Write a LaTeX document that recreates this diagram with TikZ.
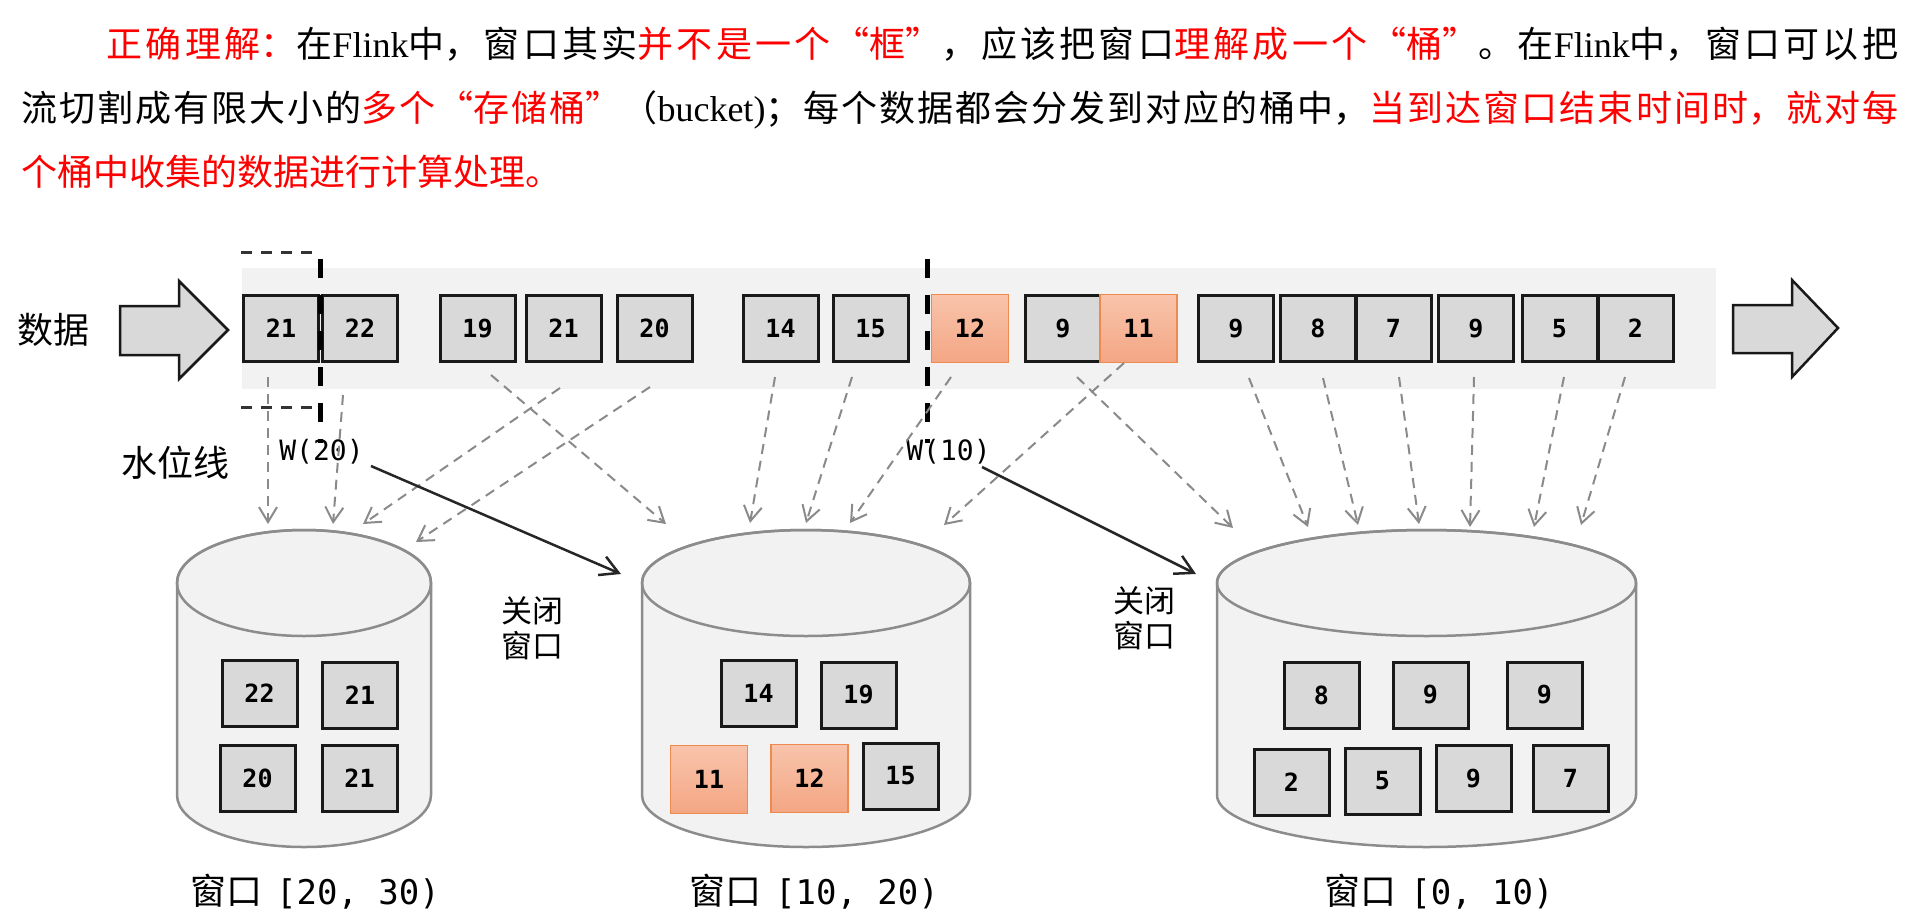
\documentclass[tikz,border=0pt]{standalone}
\usepackage{fontspec}
\setmainfont{Noto Sans CJK SC}
\newfontfamily\latinf{Liberation Serif}
\newfontfamily\monof{DejaVu Sans Mono}
\usetikzlibrary{arrows.meta}
\XeTeXlinebreaklocale "zh"
\XeTeXlinebreakskip=0pt plus 6pt
\definecolor{bandgray}{HTML}{F2F2F2}
\definecolor{boxgray}{HTML}{D9D9D9}
\definecolor{cylfill}{HTML}{F2F2F2}
\definecolor{cyledge}{HTML}{8C8C8C}
\definecolor{arrgray}{HTML}{8A8A8A}
\definecolor{orTop}{HTML}{F8C4AB}
\definecolor{orBot}{HTML}{F4A684}
\definecolor{orEdge}{HTML}{EE8A4E}
\definecolor{txtred}{HTML}{FF0000}
\tikzset{
  databox/.style={draw=black!90, line width=3pt, fill=boxgray, minimum width=75pt, minimum height=66pt, inner sep=0pt, font=\monof\bfseries\fontsize{25pt}{25pt}\selectfont},
  orangebox/.style={databox, draw=orEdge, line width=1.2pt, top color=orTop, bottom color=orBot, minimum width=77pt, minimum height=68pt},
  cylstyle/.style={fill=cylfill, draw=cyledge, line width=2.5pt},
  darrow/.style={draw=arrgray, line width=2pt, dash pattern=on 10pt off 7pt, -{Straight Barb[length=15pt,width=18pt]}},
  barrow/.style={draw=black!85, line width=2.5pt, -{Straight Barb[length=18pt,width=20pt]}},
  wline/.style={draw=black, line width=5pt, dash pattern=on 19pt off 17pt},
  mline/.style={draw=black!80, line width=3pt, dash pattern=on 11pt off 9pt},
  blockarrow/.style={fill=boxgray, draw=black!90, line width=2.5pt, line join=miter},
  cjklabel/.style={inner sep=0pt, font=\fontsize{36pt}{36pt}\selectfont},
  closelabel/.style={inner sep=0pt, align=left, font=\fontsize{31pt}{35pt}\selectfont},
  wlabel/.style={inner sep=0pt, font=\monof\fontsize{28pt}{28pt}\selectfont},
}
\newcommand{\cylinder}[3]{% name, cx, rx
  \path[cylstyle] (#2-#3,583) -- (#2-#3,795) arc[start angle=180, end angle=0, x radius=#3, y radius=52] -- (#2+#3,583) arc[start angle=0, end angle=-180, x radius=#3, y radius=53] -- cycle;
  \draw[cyledge, line width=2.5pt] (#2,583) ellipse [x radius=#3, y radius=53];
  \coordinate (#1) at (#2,583);
}
\begin{document}
\begin{tikzpicture}[x=1pt,y=-1pt]
\useasboundingbox (0,0) rectangle (1920,916);

% paragraph
\node[anchor=base west, inner sep=0pt, text width=1877pt, align=justify, font=\fontsize{36pt}{64pt}\selectfont] (para) at (21,57) {\hspace*{85.5pt}\textcolor{txtred}{正确理解：}在{\latinf Flink}中，窗口其实\textcolor{txtred}{并不是一个“框”}，应该把窗口\textcolor{txtred}{理解成一个“桶”}。在{\latinf Flink}中，窗口可以把\linebreak 流切割成有限大小的\textcolor{txtred}{多个“存储桶”}（{\latinf bucket)}；每个数据都会分发到对应的桶中，\textcolor{txtred}{当到达窗口结束时间时，就对每\linebreak 个桶中收集的数据进行计算处理。}};

% band
\fill[bandgray] (242,268) rectangle (1716,389);

% block arrows
\draw[blockarrow] (120,306) -- (179,306) -- (179,281) -- (228,330) -- (179,379) -- (179,355) -- (120,355) -- cycle;
\draw[blockarrow] (1733,305) -- (1792,305) -- (1792,280) -- (1838,328) -- (1792,377) -- (1792,353) -- (1733,353) -- cycle;
\node[cjklabel] (lbldata) at (53,330) {数据};
\node[cjklabel] (lblwater) at (175,463) {水位线};

% data boxes in band
\node[databox] (b1) at (281,328.5) {21};
\node[databox] (b2) at (360,328.5) {22};
\node[databox] (b3) at (477.5,328.5) {19};
\node[databox] (b4) at (563.5,328.5) {21};
\node[databox] (b5) at (654.5,328.5) {20};
\node[databox] (b6) at (780.5,328.5) {14};
\node[databox] (b7) at (870.5,328.5) {15};
\node[orangebox] (b8) at (970,328.5) {12};
\node[databox] (b9) at (1063,328.5) {9};
\node[orangebox] (b10) at (1138.5,328.5) {11};
\node[databox] (b11) at (1236,328.5) {9};
\node[databox] (b12) at (1318,328.5) {8};
\node[databox] (b13) at (1393.5,328.5) {7};
\node[databox] (b14) at (1476,328.5) {9};
\node[databox] (b15) at (1559.5,328.5) {5};
\node[databox] (b16) at (1635.5,328.5) {2};

% watermark markers
\coordinate (mt1) at (241,252); \coordinate (mt2) at (318,252);
\coordinate (mb1) at (241,407); \coordinate (mb2) at (318,407);
\draw[mline] (mt1) -- (mt2);
\draw[mline] (mb1) -- (mb2);
\coordinate (w1t) at (320,259); \coordinate (w1b) at (320,443);
\coordinate (w2t) at (927,259); \coordinate (w2b) at (927,443);
\draw[wline] (w1t) -- (w1b);
\draw[wline] (w2t) -- (w2b);
\node[wlabel] (w20) at (321.5,452) {W(20)};
\node[wlabel] (w10) at (948.5,452) {W(10)};

% cylinders
\cylinder{cylA}{304}{127}
\cylinder{cylB}{806}{164}
\cylinder{cylC}{1426.5}{209.5}

% boxes inside cylinders
\node[databox] (c1) at (259.5,693.5) {22};
\node[databox] (c2) at (360,695) {21};
\node[databox] (c3) at (257.5,778.5) {20};
\node[databox] (c4) at (359.5,778.5) {21};
\node[databox] (c5) at (758.5,693.5) {14};
\node[databox] (c6) at (858.5,695) {19};
\node[orangebox] (c7) at (709,779.5) {11};
\node[orangebox] (c8) at (809.5,778.5) {12};
\node[databox] (c9) at (900.5,776) {15};
\node[databox] (c10) at (1321.5,695) {8};
\node[databox] (c11) at (1430.5,695) {9};
\node[databox] (c12) at (1544.5,695) {9};
\node[databox] (c13) at (1291.5,782) {2};
\node[databox] (c14) at (1382.5,781) {5};
\node[databox] (c15) at (1473.5,778.5) {9};
\node[databox] (c16) at (1570.5,778) {7};

% labels
\node[closelabel] (close1) at (532,628) {关闭\\窗口};
\node[closelabel] (close2) at (1144,618) {关闭\\窗口};
\node[cjklabel] (lab1) at (315,892) {窗口\hspace{14pt}{\monof\fontsize{34pt}{34pt}\selectfont[20, 30)}};
\node[cjklabel] (lab2) at (814,892) {窗口\hspace{14pt}{\monof\fontsize{34pt}{34pt}\selectfont[10, 20)}};
\node[cjklabel] (lab3) at (1439,892) {窗口\hspace{14pt}{\monof\fontsize{34pt}{34pt}\selectfont[0, 10)}};

% dashed distribution arrows
\foreach \n/\sx/\sy/\tx/\ty in {
  a/268/377/268/524, b/343/395/333/524, c/560/388/363/524, d/650/387/416/542,
  e/491/375/666/524, f/775/377/750/523, g/852/377/806/523, h/951/377/850/523, i/1124/363/944/525,
  j/1077/377/1233/528, k/1249/378/1308/527, l/1323/378/1358/525, m/1399/377/1419/524,
  n/1474/377/1470/527, o/1564/377/1534/527, p/1625/377/1581/525}{
  \coordinate (s\n) at (\sx,\sy);
  \coordinate (t\n) at (\tx,\ty);
  \draw[darrow] (s\n) -- (t\n);
}

% closing arrows
\coordinate (k1) at (621,574);
\coordinate (k2) at (1196,574);
\draw[barrow] (371,466) -- (k1);
\draw[barrow] (982,467) -- (k2);
\end{tikzpicture}
\end{document}
